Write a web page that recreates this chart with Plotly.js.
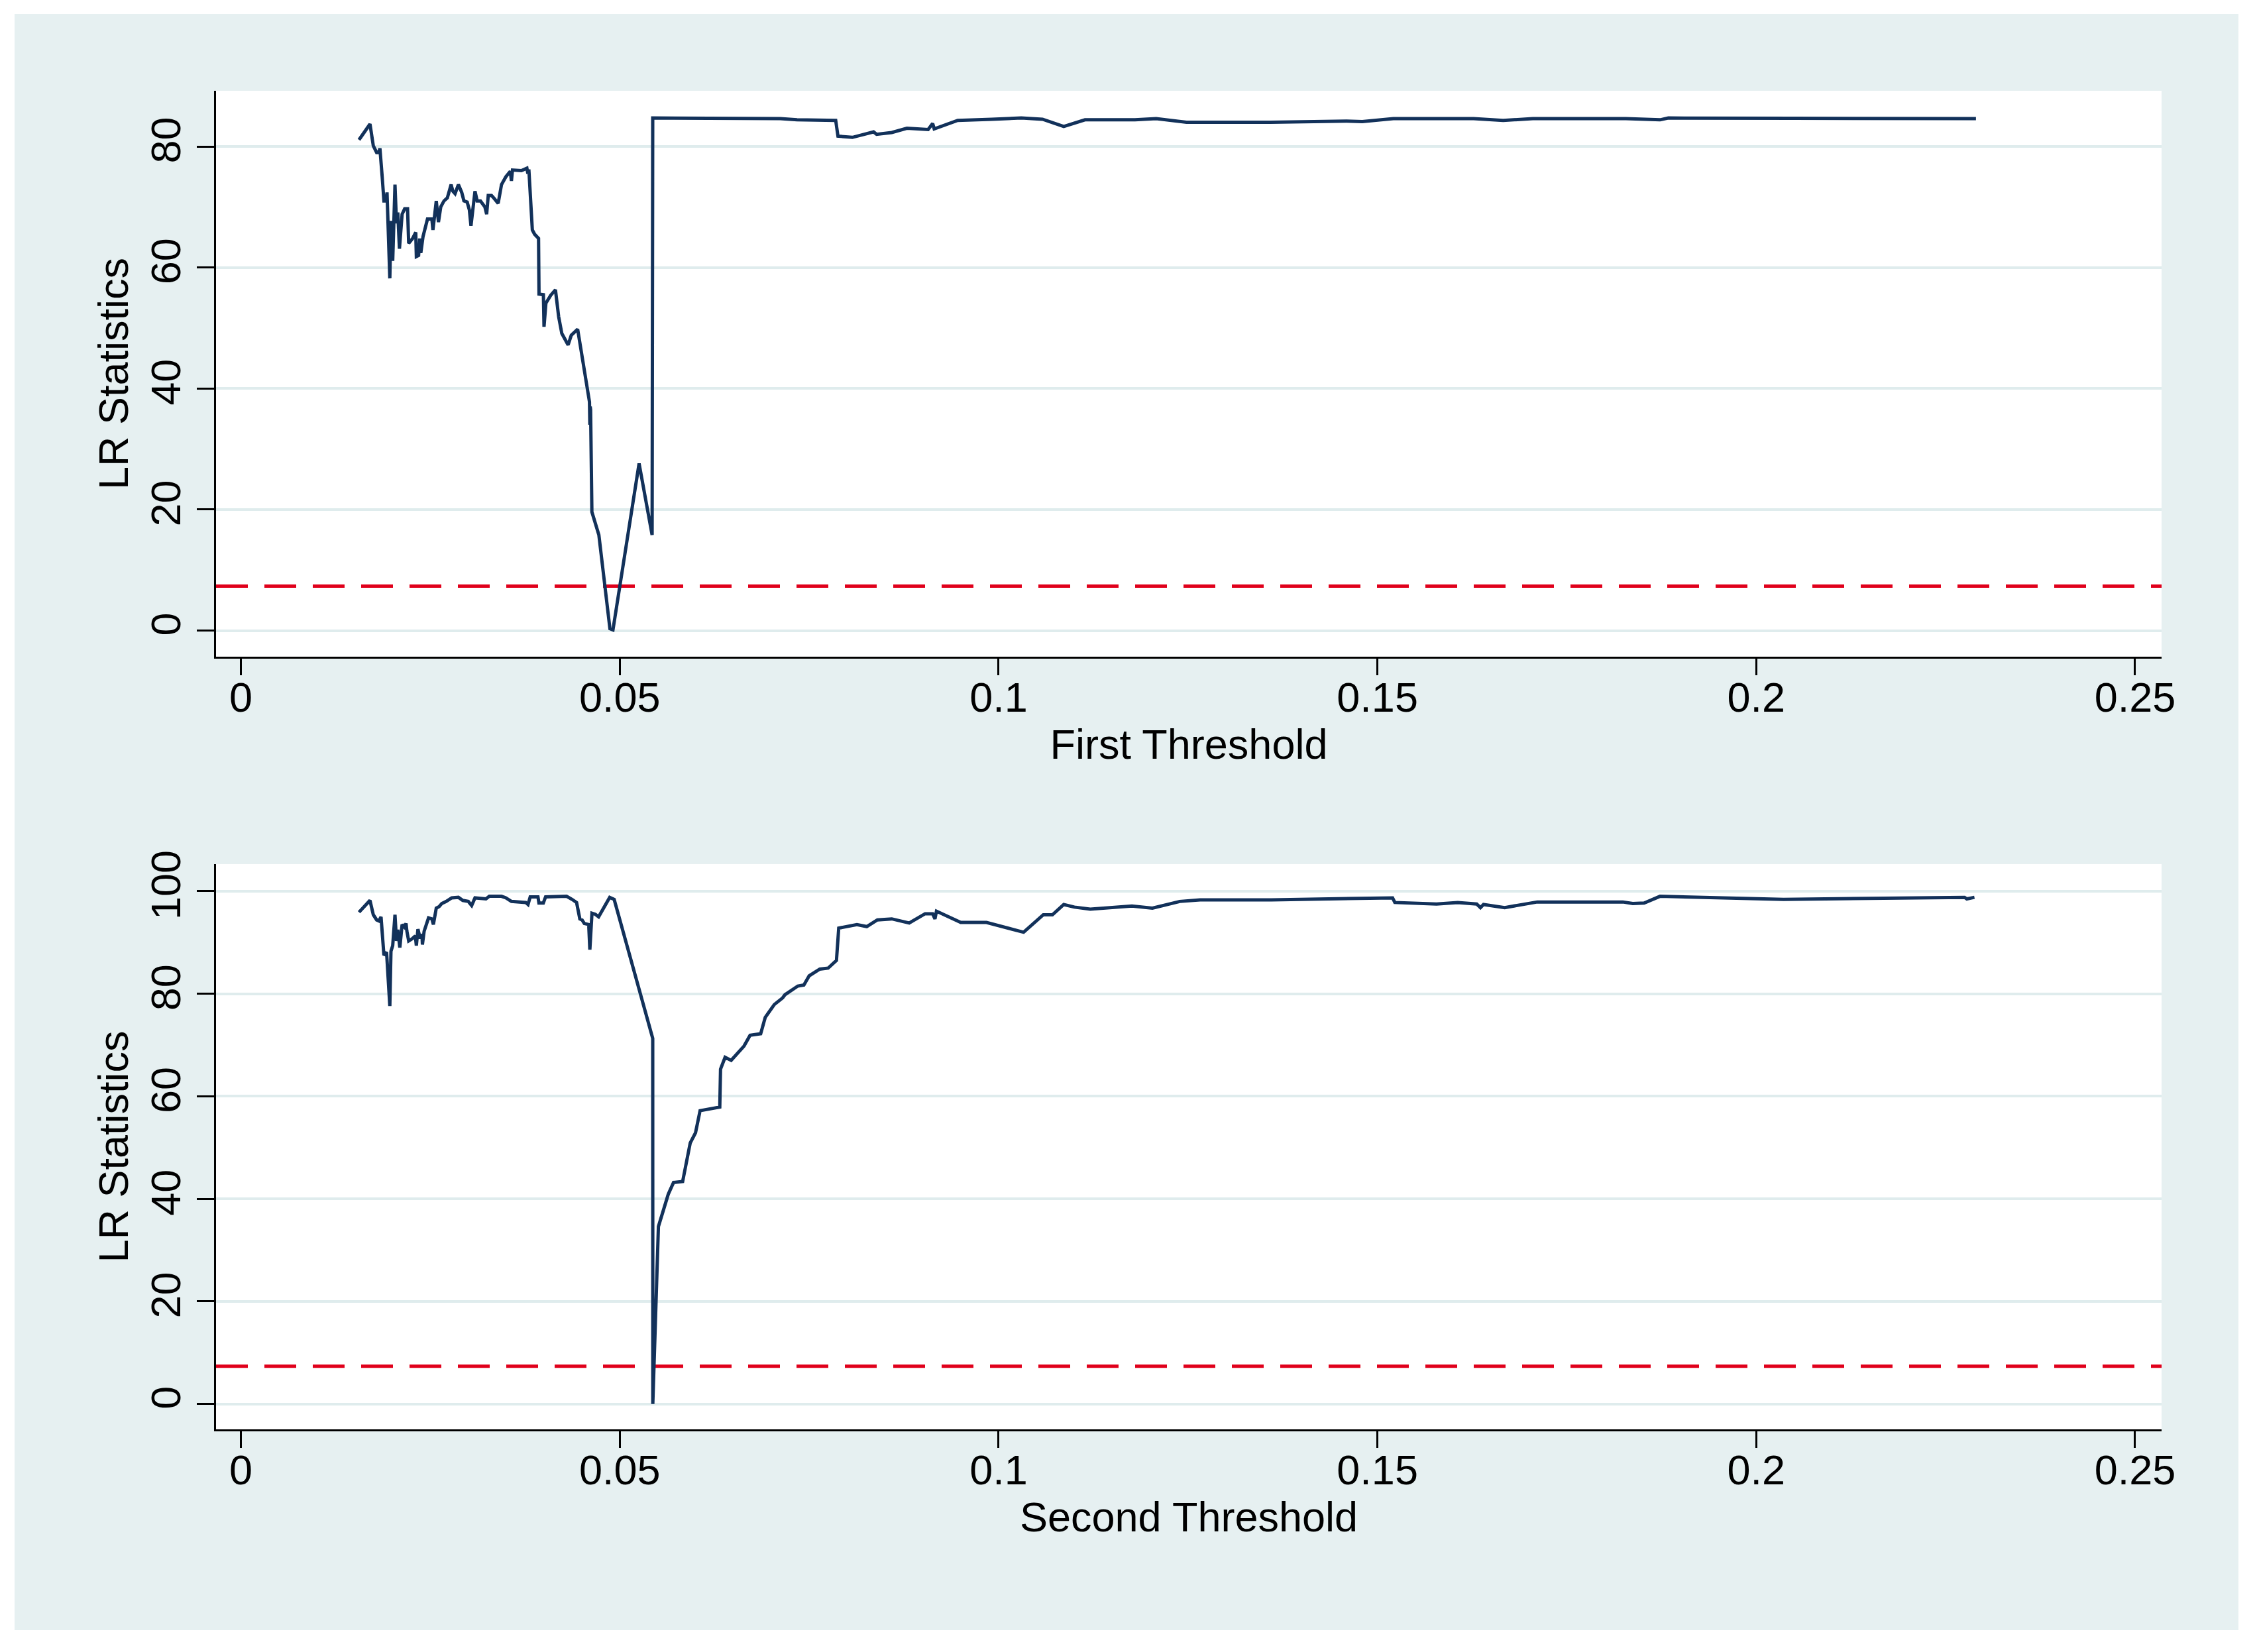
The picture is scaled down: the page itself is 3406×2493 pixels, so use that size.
<!DOCTYPE html>
<html>
<head>
<meta charset="utf-8">
<script src="https://cdn.plot.ly/plotly-3.0.1.min.js"></script>
<style>
  html, body { margin: 0; padding: 0; background: #ffffff; }
  #chart { position: absolute; left: 22px; top: 21px; width: 3356px; height: 2439px; }
</style>
</head>
<body>
<div id="chart"></div>
<script>
// LR statistic profile over the first threshold
const firstX = [
    0.01558, 0.01703, 0.01747, 0.01791, 0.01820, 0.01834, 0.01864, 0.01887, 0.01916, 0.01928,
    0.01965, 0.01980, 0.02003, 0.02033, 0.02053, 0.02070, 0.02092, 0.02127, 0.02161, 0.02199,
    0.02214, 0.02266, 0.02307, 0.02315, 0.02345, 0.02359, 0.02374, 0.02403, 0.02462, 0.02520,
    0.02534, 0.02549, 0.02578, 0.02607, 0.02637, 0.02680, 0.02724, 0.02774, 0.02797, 0.02826,
    0.02870, 0.02914, 0.02943, 0.02986, 0.03015, 0.03036, 0.03059, 0.03089, 0.03118, 0.03161,
    0.03220, 0.03243, 0.03264, 0.03307, 0.03336, 0.03395, 0.03439, 0.03497, 0.03555, 0.03570,
    0.03584, 0.03701, 0.03774, 0.03787, 0.03800, 0.03846, 0.03876, 0.03928, 0.03934, 0.03992,
    0.04000, 0.04025, 0.04088, 0.04151, 0.04193, 0.04235, 0.04318, 0.04360, 0.04444, 0.04527,
    0.04600, 0.04605, 0.04610, 0.04615, 0.04632, 0.04724, 0.04870, 0.04910, 0.05255, 0.05427,
    0.05435, 0.0600, 0.0712, 0.0734, 0.0785, 0.0788, 0.0807, 0.0835, 0.0839, 0.0859,
    0.0879, 0.0907, 0.0913, 0.0915, 0.0946, 0.0991, 0.1030, 0.1058, 0.1086, 0.1114,
    0.1180, 0.1208, 0.1248, 0.1359, 0.1459, 0.1480, 0.1521, 0.1627, 0.1666, 0.1705,
    0.1828, 0.1873, 0.1884, 0.2051, 0.2290
];
const firstLR = [
    81.1, 83.7, 80.1, 79.0, 79.0, 79.7, 75.0, 71.0, 71.0, 72.4,
    58.2, 67.7, 61.1, 73.7, 67.3, 69.1, 63.1, 68.8, 69.7, 69.7,
    64.0, 64.8, 65.8, 61.8, 62.0, 64.8, 62.4, 65.1, 68.0, 68.0,
    66.2, 68.2, 71.0, 67.5, 70.0, 71.0, 71.5, 73.7, 72.6, 72.2,
    73.7, 72.4, 71.0, 70.8, 69.5, 66.9, 69.3, 72.6, 71.0, 71.0,
    70.0, 68.8, 71.9, 71.9, 71.5, 70.6, 73.7, 75.0, 75.9, 74.3,
    76.1, 76.0, 76.4, 75.5, 76.2, 66.2, 65.5, 64.8, 55.6, 55.5,
    50.2, 54.1, 55.4, 56.3, 51.9, 49.1, 47.2, 48.8, 49.8, 43.4,
    37.8, 34.0, 37.0, 36.5, 19.6, 15.8, 0.3, 0.1, 27.6, 15.8,
    84.7, 84.7, 84.6, 84.4, 84.3, 81.7, 81.5, 82.4, 82.0, 82.3,
    83.0, 82.8, 83.8, 82.9, 84.3, 84.5, 84.7, 84.5, 83.3, 84.4,
    84.4, 84.6, 84.0, 84.0, 84.2, 84.1, 84.6, 84.6, 84.3, 84.6,
    84.6, 84.4, 84.7, 84.65, 84.6
];

// LR statistic profile over the second threshold
const secondX = [
    0.01558, 0.01703, 0.01747, 0.01791, 0.01820, 0.01849, 0.01887, 0.01922, 0.01965, 0.01980,
    0.02003, 0.02033, 0.02053, 0.02070, 0.02097, 0.02127, 0.02157, 0.02179, 0.02190, 0.02214,
    0.02258, 0.02302, 0.02315, 0.02336, 0.02365, 0.02389, 0.02395, 0.02418, 0.02476, 0.02520,
    0.02540, 0.02578, 0.02616, 0.02651, 0.02709, 0.02782, 0.02870, 0.02928, 0.03001, 0.03045,
    0.03089, 0.03234, 0.03278, 0.03439, 0.03497, 0.03570, 0.03759, 0.03789, 0.03818, 0.03920,
    0.03933, 0.03991, 0.04021, 0.04255, 0.04298, 0.04371, 0.04430, 0.04473, 0.04502, 0.04532,
    0.04590, 0.04605, 0.04633, 0.04677, 0.04721, 0.04867, 0.04926, 0.05435, 0.05436, 0.0551,
    0.0564, 0.0571, 0.0583, 0.0593, 0.0600, 0.0606, 0.0632, 0.0633, 0.0639, 0.0647,
    0.0664, 0.0672, 0.0686, 0.0692, 0.0704, 0.0715, 0.0718, 0.0735, 0.0743, 0.0750,
    0.0764, 0.0775, 0.0786, 0.0789, 0.0813, 0.0826, 0.0840, 0.0859, 0.0882, 0.0903,
    0.0913, 0.0916, 0.0918, 0.0950, 0.0984, 0.1033, 0.1059, 0.1071, 0.1086, 0.1100,
    0.1121, 0.1176, 0.1203, 0.1239, 0.1266, 0.1360, 0.1453, 0.1504, 0.1520, 0.1523,
    0.1578, 0.1606, 0.1631, 0.1636, 0.1640, 0.1668, 0.1686, 0.1711, 0.1824, 0.1837,
    0.1852, 0.1873, 0.2036, 0.2275, 0.2278, 0.2288
];
const secondLR = [
    95.9, 98.2, 95.4, 94.4, 94.2, 95.0, 87.5, 88.1, 77.6, 88.3,
    89.4, 95.4, 90.3, 92.5, 89.0, 93.5, 93.0, 93.7, 92.2, 90.3,
    90.7, 91.3, 89.4, 92.6, 90.8, 91.6, 89.6, 92.2, 94.8, 94.6,
    93.5, 96.7, 97.0, 97.6, 98.0, 98.7, 98.8, 98.2, 98.0, 97.2,
    98.7, 98.5, 99.0, 99.0, 98.7, 98.0, 97.8, 97.4, 98.9, 98.9,
    97.7, 97.7, 98.9, 98.9, 99.0, 98.4, 97.8, 94.6, 94.4, 93.7,
    93.5, 88.6, 95.7, 95.5, 95.0, 98.8, 98.4, 71.3, 0.0, 34.6,
    40.9, 43.2, 43.4, 50.9, 52.9, 57.2, 57.9, 65.3, 67.6, 67.0,
    69.8, 71.9, 72.2, 75.4, 77.9, 79.2, 79.8, 81.5, 81.7, 83.5,
    84.8, 85.0, 86.5, 92.8, 93.5, 93.1, 94.4, 94.6, 93.8, 95.6,
    95.6, 94.6, 96.1, 93.9, 93.9, 92.0, 95.4, 95.4, 97.4, 96.9,
    96.5, 97.1, 96.7, 98.0, 98.3, 98.3, 98.5, 98.7, 98.7, 97.8,
    97.5, 97.8, 97.5, 96.8, 97.4, 96.8, 97.2, 97.9, 97.9, 97.6,
    97.7, 99.0, 98.4, 98.8, 98.5, 98.8
];

// 5% critical value drawn as the dashed reference line
const critValue = 7.35;

const xTicks = [0, 0.05, 0.1, 0.15, 0.2, 0.25];
const xTickText = ["0", "0.05", "0.1", "0.15", "0.2", "0.25"];
const firstYTicks = [0, 20, 40, 60, 80];
const secondYTicks = [0, 20, 40, 60, 80, 100];

const FONT = "Liberation Sans, Arial, Helvetica, sans-serif";
const navy = "#12315a";
const critRed = "#e0001b";

const textFont = { family: FONT, size: 63, color: "#000000" };

function xAxisStyle(title, anchor) {
    return {
        anchor: anchor,
        domain: [0, 1],
        range: [-0.00329, 0.2535],
        tickvals: xTicks,
        ticktext: xTickText,
        ticks: "outside",
        ticklen: 25,
        tickwidth: 3,
        tickcolor: "#000000",
        tickfont: textFont,
        ticklabelstandoff: -21,
        showline: true,
        linecolor: "#000000",
        linewidth: 3,
        showgrid: false,
        zeroline: false,
        automargin: false,
        title: { text: title, font: textFont, standoff: 16 },
    };
}

function yAxisStyle(anchor, domain, range, ticks) {
    return {
        anchor: anchor,
        domain: domain,
        range: range,
        tickvals: ticks,
        tickangle: -90,
        ticks: "outside",
        ticklen: 26,
        tickwidth: 3,
        tickcolor: "#000000",
        tickfont: textFont,
        showline: true,
        linecolor: "#000000",
        linewidth: 3,
        showgrid: true,
        gridcolor: "#dfeced",
        gridwidth: 4,
        zeroline: false,
        automargin: false,
        title: { text: "LR Statistics", font: textFont, standoff: 1 },
    };
}

const traces = [
    {
        x: firstX, y: firstLR, xaxis: "x", yaxis: "y",
        type: "scatter", mode: "lines",
        line: { color: navy, width: 5 },
        hoverinfo: "skip",
    },
    {
        x: secondX, y: secondLR, xaxis: "x2", yaxis: "y2",
        type: "scatter", mode: "lines",
        line: { color: navy, width: 5 },
        hoverinfo: "skip",
    },
];

const critLine = (yref, xref) => ({
    type: "line",
    xref: xref + " domain", x0: 0, x1: 1,
    yref: yref, y0: critValue, y1: critValue,
    line: { color: critRed, width: 5, dash: "48px,25px" },
    layer: "below",
});

const layout = {
    width: 3356,
    height: 2439,
    margin: { l: 304, r: 116, t: 116, b: 303 },
    paper_bgcolor: "#e6f0f1",
    plot_bgcolor: "#ffffff",
    showlegend: false,
    hovermode: false,
    font: textFont,
    xaxis: xAxisStyle("First Threshold", "y"),
    yaxis: yAxisStyle("x", [0.5772, 1], [-4.33, 89.2], firstYTicks),
    xaxis2: xAxisStyle("Second Threshold", "y2"),
    yaxis2: yAxisStyle("x2", [0, 0.4223], [-4.95, 105.29], secondYTicks),
    shapes: [critLine("y", "x"), critLine("y2", "x2")],
};

Plotly.newPlot("chart", traces, layout, { displayModeBar: false, staticPlot: true });
</script>
</body>
</html>
